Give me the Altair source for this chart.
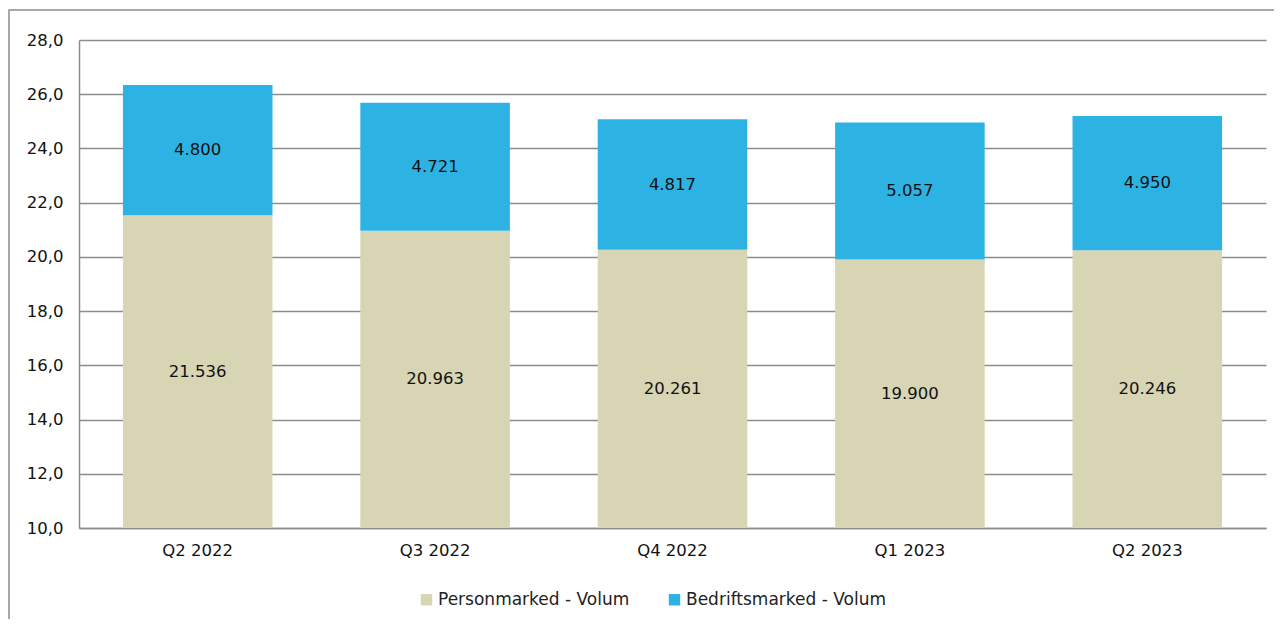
import altair as alt
import pandas as pd

quarters = ["Q2 2022", "Q3 2022", "Q4 2022", "Q1 2023", "Q2 2023"]
person = [21.536, 20.963, 20.261, 19.900, 20.246]
bedrift = [4.800, 4.721, 4.817, 5.057, 4.950]
series = ["Personmarked - Volum", "Bedriftsmarked - Volum"]
colors = ["#D7D5B3", "#2DB3E3"]
y_ticks = [10, 12, 14, 16, 18, 20, 22, 24, 26, 28]
base = 10.0

rows = []
for q, p, b in zip(quarters, person, bedrift):
    rows.append({"q": q, "s": series[0], "v": p, "start": base, "end": p})
    rows.append({"q": q, "s": series[1], "v": b, "start": p, "end": p + b})
df = pd.DataFrame(rows)
df["mid"] = (df["start"] + df["end"]) / 2

FONT = "DejaVu Sans"
FS = 16.5
W, H = 1187, 488

x = alt.X("q:N", sort=quarters, title=None,
          scale=alt.Scale(paddingInner=0.37, paddingOuter=0.185),
          axis=alt.Axis(labelAngle=0, ticks=False, labelPadding=14, labelFontSize=FS,
                        labelFont=FONT, labelColor="#111", domainColor="#8c8c8c",
                        domainWidth=1.5, grid=False))
yscale = alt.Scale(domain=[10, 28], nice=False, zero=False)

bars = alt.Chart(df).mark_bar(clip=True).encode(
    x=x,
    y=alt.Y("start:Q", scale=yscale, title=None,
            axis=alt.Axis(values=y_ticks, labelExpr="replace(format(datum.value, '.1f'), '.', ',')",
                          ticks=False, labelPadding=16, labelFontSize=FS, labelFont=FONT,
                          labelColor="#111", domainColor="#8c8c8c", domainWidth=1.5,
                          grid=True, gridColor="#8c8c8c", gridWidth=1.5)),
    y2="end:Q",
    color=alt.Color("s:N", scale=alt.Scale(domain=series, range=colors), sort=series,
                    legend=alt.Legend(title=None, orient="none", direction="horizontal",
                                      legendX=339, legendY=551, symbolType="square",
                                      symbolSize=130, symbolStrokeWidth=0, labelFontSize=17,
                                      labelFont=FONT, labelColor="#222", columnPadding=36,
                                      labelOffset=3, labelLimit=400)),
)

labels = alt.Chart(df).mark_text(font=FONT, fontSize=FS, color="#111").encode(
    x=alt.X("q:N", sort=quarters),
    y=alt.Y("mid:Q", scale=yscale),
    text=alt.Text("v:Q", format=".3f"),
)

frame = alt.Chart(pd.DataFrame({"a": [0]})).mark_rect(
    fill=None, stroke="#8c8c8c", strokeWidth=1.5, clip=False
).encode(x=alt.value(-70), x2=alt.value(W + 40), y=alt.value(-30), y2=alt.value(H + 140))

chart = alt.layer(frame, bars, labels).properties(
    width=W, height=H,
    autosize=alt.AutoSizeParams(type="none"),
    padding={"left": 71, "top": 32, "right": 8, "bottom": 91},
).configure_view(stroke=None)

chart.save("out.html", embed_options={"renderer": "svg", "actions": False})
